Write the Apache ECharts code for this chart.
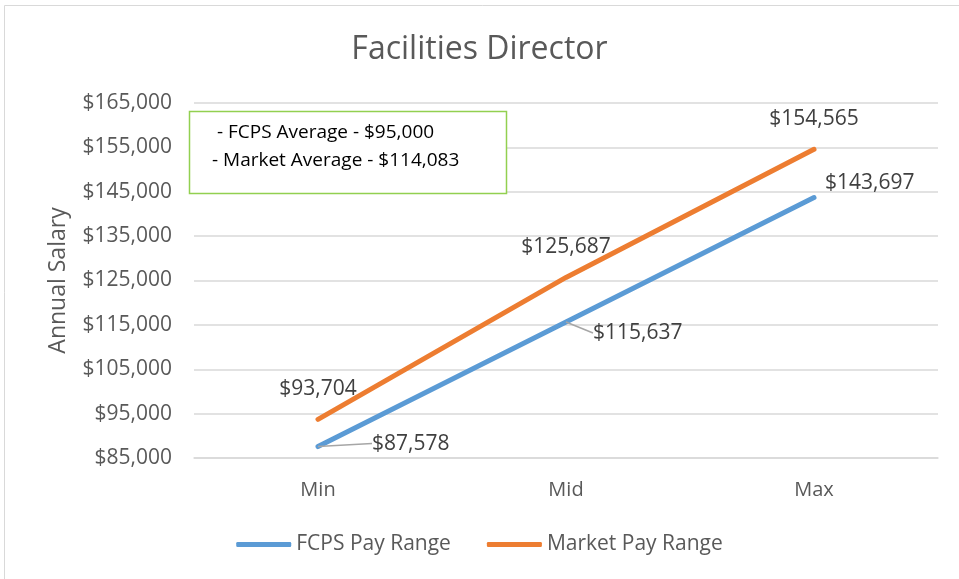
<!DOCTYPE html>
<html lang="en">
<head>
    <meta charset="UTF-8">
    <script src="https://cdn.jsdelivr.net/npm/echarts@6/dist/echarts.min.js"></script>
    <style>
        * { margin: 0; padding: 0; }
        #chart { width: 959px; height: 579px; background: #fff; }
    </style>
</head>
<body>
<div id="chart"></div>
<script>
    const categories = ['Min', 'Mid', 'Max'];
    const fcpsValues = [87578, 115637, 143697];
    const marketValues = [93704, 125687, 154565];
    const seriesNames = ['FCPS Pay Range', 'Market Pay Range'];
    const noteLines = [' - FCPS Average - $95,000', '- Market Average - $114,083'];

    const money = v => '$' + v.toLocaleString('en-US');
    const font = '"Open Sans", sans-serif';

    // label nudges (px) so they sit like the original
    const fcpsShift = [[49, -3], [22, 11], [6, -15]];
    const fcpsLeader = [true, true, false];

    const myChart = echarts.init(document.getElementById('chart'));

    const option = {
        animation: false,
        title: {
            text: 'Facilities Director',
            left: 'center',
            top: 29,
            textStyle: {fontFamily: font, fontSize: 32, fontWeight: 'normal', color: '#595959'}
        },
        grid: {left: 194, right: 21, top: 103, bottom: 121},
        legend: {
            bottom: 19,
            left: 'center',
            itemWidth: 55,
            itemHeight: 5,
            itemGap: 36,
            icon: 'roundRect',
            textStyle: {fontFamily: font, fontSize: 21, color: '#595959'},
            data: seriesNames
        },
        xAxis: {
            type: 'category',
            data: categories,
            axisTick: {show: false},
            axisLine: {lineStyle: {color: '#d9d9d9', width: 1.5}},
            axisLabel: {fontFamily: font, fontSize: 20, color: '#595959', margin: 22}
        },
        yAxis: {
            type: 'value',
            min: 85000,
            max: 165000,
            interval: 10000,
            name: 'Annual Salary',
            nameLocation: 'middle',
            nameGap: 124,
            nameTextStyle: {fontFamily: font, fontSize: 23, color: '#595959'},
            axisLabel: {fontFamily: font, fontSize: 21, color: '#595959', margin: 22, formatter: money},
            splitLine: {lineStyle: {color: '#d9d9d9', width: 1.5}}
        },
        series: [
            {
                name: seriesNames[0],
                type: 'line',
                symbol: 'circle',
                symbolSize: 0,
                color: '#5b9bd5',
                lineStyle: {width: 5, cap: 'round'},
                data: fcpsValues.map((v, i) => ({
                    value: v,
                    labelLine: {show: fcpsLeader[i], lineStyle: {color: '#a6a6a6', width: 1.5}}
                })),
                label: {
                    show: true,
                    position: 'right',
                    fontFamily: font, fontSize: 21, color: '#404040',
                    formatter: p => money(p.value)
                },
                labelLayout: p => ({dx: fcpsShift[p.dataIndex][0], dy: fcpsShift[p.dataIndex][1]})
            },
            {
                name: seriesNames[1],
                type: 'line',
                symbol: 'circle',
                symbolSize: 0,
                color: '#ed7d31',
                lineStyle: {width: 5, cap: 'round'},
                data: marketValues,
                label: {
                    show: true,
                    position: 'top',
                    distance: 20,
                    fontFamily: font, fontSize: 21, color: '#404040',
                    formatter: p => money(p.value)
                }
            }
        ],
        graphic: [
            {
                type: 'rect',
                shape: {x: 4.5, y: 5.5, width: 1000, height: 1000},
                style: {fill: 'none', stroke: '#d9d9d9', lineWidth: 1},
                silent: true
            },
            {
                type: 'rect',
                shape: {x: 189.5, y: 111.5, width: 317, height: 82},
                style: {fill: '#fff', stroke: '#92d050', lineWidth: 1.5},
                z: 100
            },
            {
                type: 'text',
                left: 212,
                top: 119,
                z: 101,
                style: {
                    text: noteLines.join('\n'),
                    fontFamily: font, fontSize: 19, lineHeight: 28, fill: '#000'
                }
            }
        ]
    };

    myChart.setOption(option);
</script>
</body>
</html>
